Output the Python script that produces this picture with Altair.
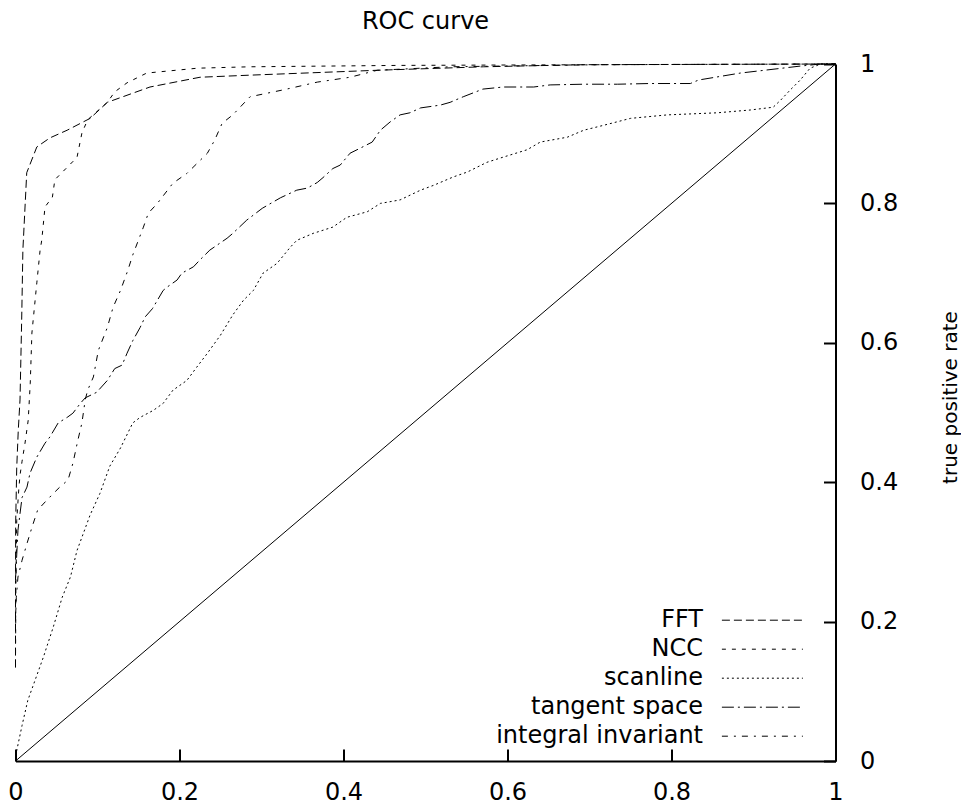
import altair as alt
import pandas as pd

series = ["FFT", "NCC", "scanline", "tangent space", "integral invariant"]
dashes = [[8, 4], [4, 6], [2, 3], [12, 4, 2, 4], [6, 6, 2, 6]]

fft_x = [0, 0, 0.0002, 0.0015, 0.0034, 0.0055, 0.0076, 0.009, 0.0137, 0.026, 0.042, 0.063,
         0.091, 0.112, 0.164, 0.225, 0.286, 0.441, 0.571, 0.693, 1.0]
fft_y = [0.134, 0.259, 0.341, 0.421, 0.475, 0.518, 0.637, 0.733, 0.844, 0.881, 0.894, 0.905,
         0.922, 0.945, 0.967, 0.981, 0.984, 0.991, 0.996, 0.999, 1.0]

ncc_x = [0, 0.0005, 0.0015, 0.004, 0.0055, 0.008, 0.0116, 0.0155, 0.018, 0.020, 0.026, 0.030,
         0.032, 0.036, 0.045, 0.048, 0.075, 0.081, 0.088, 0.112, 0.121, 0.136, 0.160, 0.222,
         0.286, 0.469, 0.713, 1.0]
ncc_y = [0.14, 0.25, 0.345, 0.39, 0.41, 0.43, 0.456, 0.489, 0.542, 0.614, 0.686, 0.733,
         0.747, 0.795, 0.809, 0.834, 0.866, 0.901, 0.92, 0.945, 0.96, 0.973, 0.987, 0.994,
         0.996, 0.998, 0.999, 1.0]

scan_x = [0, 0.0015, 0.008, 0.015, 0.034, 0.046, 0.057, 0.067, 0.075, 0.081, 0.091, 0.103,
          0.115, 0.128, 0.143, 0.152, 0.168, 0.180, 0.192, 0.209, 0.221, 0.234, 0.250, 0.265,
          0.278, 0.290, 0.302, 0.319, 0.335, 0.343, 0.363, 0.387, 0.404, 0.429, 0.445, 0.469,
          0.494, 0.510, 0.534, 0.551, 0.575, 0.591, 0.624, 0.640, 0.673, 0.693, 0.717, 0.750,
          0.795, 0.856, 0.896, 0.924, 0.933, 0.945, 0.957, 0.969, 0.982, 1.0]
scan_y = [0, 0.015, 0.051, 0.087, 0.149, 0.192, 0.235, 0.264, 0.302, 0.321, 0.353, 0.384,
          0.423, 0.449, 0.485, 0.493, 0.503, 0.513, 0.532, 0.546, 0.565, 0.585, 0.611, 0.640,
          0.661, 0.675, 0.700, 0.714, 0.737, 0.747, 0.757, 0.766, 0.780, 0.788, 0.800, 0.805,
          0.819, 0.826, 0.838, 0.845, 0.859, 0.865, 0.877, 0.888, 0.895, 0.905, 0.912, 0.922,
          0.927, 0.930, 0.934, 0.938, 0.948, 0.963, 0.977, 0.994, 1.0, 1.0]

tan_x = [0, 0.003, 0.0055, 0.008, 0.014, 0.0177, 0.026, 0.036, 0.042, 0.052, 0.063, 0.070,
         0.079, 0.085, 0.099, 0.112, 0.121, 0.130, 0.136, 0.143, 0.152, 0.158, 0.167, 0.173,
         0.180, 0.185, 0.197, 0.203, 0.217, 0.225, 0.237, 0.258, 0.265, 0.282, 0.301, 0.323,
         0.343, 0.356, 0.368, 0.375, 0.387, 0.396, 0.408, 0.420, 0.435, 0.445, 0.457, 0.469,
         0.481, 0.494, 0.518, 0.530, 0.546, 0.570, 0.595, 0.632, 0.652, 0.693, 0.734, 0.774,
         0.823, 0.833, 0.884, 0.957, 0.982, 1.0]
tan_y = [0.26, 0.331, 0.355, 0.378, 0.393, 0.413, 0.436, 0.456, 0.465, 0.485, 0.493, 0.499,
         0.513, 0.521, 0.529, 0.546, 0.563, 0.568, 0.585, 0.603, 0.622, 0.637, 0.649, 0.661,
         0.675, 0.680, 0.690, 0.700, 0.709, 0.719, 0.733, 0.750, 0.757, 0.776, 0.793, 0.808,
         0.819, 0.822, 0.830, 0.837, 0.850, 0.855, 0.872, 0.879, 0.888, 0.905, 0.917, 0.927,
         0.930, 0.937, 0.941, 0.945, 0.953, 0.964, 0.967, 0.967, 0.970, 0.971, 0.971, 0.972,
         0.972, 0.977, 0.987, 0.997, 1.0, 1.0]

int_x = [0, 0.001, 0.003, 0.008, 0.014, 0.020, 0.027, 0.038, 0.048, 0.054, 0.064, 0.070,
         0.076, 0.081, 0.085, 0.088, 0.095, 0.101, 0.112, 0.119, 0.128, 0.137, 0.143, 0.156,
         0.162, 0.173, 0.192, 0.209, 0.234, 0.243, 0.252, 0.265, 0.286, 0.327, 0.368, 0.408,
         0.441, 0.530, 0.713, 1.0]
int_y = [0.2, 0.235, 0.264, 0.288, 0.312, 0.335, 0.360, 0.374, 0.386, 0.393, 0.403, 0.427,
         0.460, 0.485, 0.518, 0.532, 0.551, 0.589, 0.622, 0.651, 0.675, 0.704, 0.726, 0.766,
         0.786, 0.800, 0.829, 0.843, 0.872, 0.891, 0.915, 0.927, 0.953, 0.963, 0.974, 0.981,
         0.991, 0.996, 0.999, 1.0]

diag_x = [0.0, 1.0]
diag_y = [0.0, 1.0]

rows = []
for name, xs, ys in zip(series, [fft_x, ncc_x, scan_x, tan_x, int_x],
                        [fft_y, ncc_y, scan_y, tan_y, int_y]):
    for i, (a, b) in enumerate(zip(xs, ys)):
        rows.append({"series": name, "fpr": a, "tpr": b, "idx": i})
df = pd.DataFrame(rows)
diag = pd.DataFrame({"fpr": diag_x, "tpr": diag_y, "idx": [0, 1]})

FONT = "DejaVu Sans"
FS = 24
W, H = 820, 697
sx = alt.Scale(domain=[0, 1], nice=False, zero=False)
sy = alt.Scale(domain=[0, 1], nice=False, zero=False)
vals = [0, 0.2, 0.4, 0.6, 0.8, 1]

main_x_axis = alt.Axis(orient="bottom", values=vals, format="~g", title=None, grid=False,
                       ticks=False, tickSize=0, domainColor="black", domainWidth=2,
                       labelFont=FONT, labelFontSize=FS, labelColor="black", labelPadding=19,
                       labelFlush=False, labelOverlap=False)
main_y_axis = alt.Axis(orient="right", values=vals, format="~g", title="true positive rate",
                       grid=False, ticks=False, tickSize=0, domainColor="black", domainWidth=2,
                       labelFont=FONT, labelFontSize=FS, labelColor="black", labelPadding=24,
                       labelFlush=False, labelOverlap=False, titleFont=FONT, titleFontSize=20,
                       titleFontWeight="normal", titleColor="black", titleAngle=270,
                       titleX=115, titleY=333, titleAlign="center", titleBaseline="middle")

tick_x_axis = alt.Axis(orient="top", offset=-H, values=vals, title=None, grid=False, labels=False,
                       domain=False, ticks=True, tickSize=12, tickWidth=2, tickColor="black")
tick_y_axis = alt.Axis(orient="left", offset=-W, values=vals, title=None, grid=False, labels=False,
                       domain=False, ticks=True, tickSize=12, tickWidth=2, tickColor="black")

diag_layer = alt.Chart(diag).mark_line(color="black", strokeWidth=1).encode(
    x=alt.X("fpr:Q", scale=sx, axis=main_x_axis),
    y=alt.Y("tpr:Q", scale=sy, axis=main_y_axis),
    order="idx:Q",
)

# legend sample: a long horizontal stroke drawn as a custom symbol path
SYM = 410
curves = alt.Chart(df).mark_line(color="black", strokeWidth=1).encode(
    x=alt.X("fpr:Q", scale=sx, axis=None),
    y=alt.Y("tpr:Q", scale=sy, axis=None),
    strokeDash=alt.StrokeDash(
        "series:N",
        scale=alt.Scale(domain=series, range=dashes),
        sort=series,
        legend=alt.Legend(title=None, orient="none", legendX=734.9, legendY=544.2,
                          symbolType="M-4,0H4", symbolSize=SYM, symbolStrokeWidth=1,
                          symbolStrokeColor="black", symbolFillColor="transparent",
                          labelAlign="right",
                          labelOffset={"expr": "-71.4"},
                          labelFont=FONT, labelFontSize=FS, labelColor="black",
                          labelLimit=500, rowPadding=5, padding=0),
    ),
    order="idx:Q",
)

tick_layer = alt.Chart(diag).mark_line(opacity=0).encode(
    x=alt.X("fpr:Q", scale=sx, axis=tick_x_axis),
    y=alt.Y("tpr:Q", scale=sy, axis=tick_y_axis),
)

chart = alt.layer(diag_layer, curves, tick_layer).resolve_axis(
    x="independent", y="independent"
).properties(
    width=W, height=H,
    title=alt.TitleParams("ROC curve", font=FONT, fontSize=FS, fontWeight="normal",
                          color="black", anchor="middle", offset=18),
    autosize=alt.AutoSizeParams(type="none"),
    padding={"left": 7.5, "top": 56, "right": 125.5, "bottom": 48},
    background="white",
).configure_view(stroke=None)

chart.save("out.html", embed_options={"renderer": "svg", "actions": False})
